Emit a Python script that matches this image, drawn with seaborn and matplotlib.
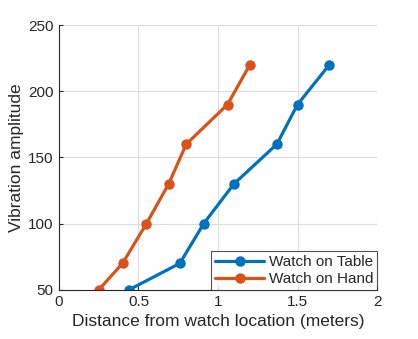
import pandas as pd
import matplotlib.pyplot as plt
import seaborn as sns

# data
amplitude = [50, 70, 100, 130, 160, 190, 220]
dist_table = [0.44, 0.76, 0.91, 1.10, 1.37, 1.50, 1.70]
dist_hand = [0.25, 0.40, 0.55, 0.69, 0.80, 1.06, 1.20]
series_names = ['Watch on Table', 'Watch on Hand']

df = pd.concat([
    pd.DataFrame({'dist': dist_table, 'amp': amplitude, 'series': series_names[0]}),
    pd.DataFrame({'dist': dist_hand, 'amp': amplitude, 'series': series_names[1]}),
])

sns.set_style('white')
plt.rcParams['font.family'] = ['Liberation Sans', 'DejaVu Sans']

fig = plt.figure(figsize=(4.18, 3.39), dpi=100)
ax = fig.add_axes([0.141, 0.145, 0.761, 0.781])

sns.lineplot(data=df, x='dist', y='amp', hue='series', hue_order=series_names,
             palette=['#0072BD', '#D95319'], marker='o', markersize=7.5,
             markeredgewidth=0, linewidth=2.3, sort=False, ax=ax)

ax.set_xlim(0, 2)
ax.set_ylim(50, 250)
ax.set_xticks([0, 0.5, 1, 1.5, 2])
ax.set_xticklabels(['0', '0.5', '1', '1.5', '2'])
ax.set_yticks([50, 100, 150, 200, 250])
ax.grid(True, color='#dcdcdc', linewidth=0.8)
ax.set_axisbelow(True)
for side in ['top', 'right']:
    ax.spines[side].set_visible(False)
for side in ['left', 'bottom']:
    ax.spines[side].set_color('#262626')
    ax.spines[side].set_linewidth(0.8)
ax.tick_params(axis='both', labelsize=11, colors='#262626', length=3, direction='in',
               left=True, bottom=True, pad=4)
ax.set_xlabel('Distance from watch location (meters)', fontsize=12.5, color='#262626',
              labelpad=3)
ax.set_ylabel('Vibration amplitude', fontsize=12.5, color='#262626', labelpad=3)

leg = ax.legend(loc='lower right', fontsize=11, frameon=True, fancybox=False,
                borderaxespad=0, handlelength=3.2, handletextpad=0.3,
                borderpad=0.25, labelspacing=0.2)
leg.get_frame().set_edgecolor('#262626')
leg.get_frame().set_linewidth(0.8)

fig.savefig('out.png', dpi=100)
